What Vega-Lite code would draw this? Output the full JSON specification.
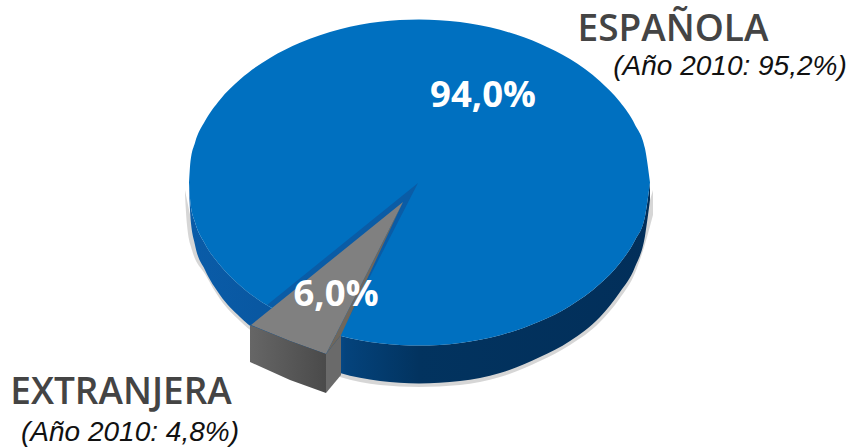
{
"$schema":"https://vega.github.io/schema/vega-lite/v6.json",
"width":850,"height":447,"padding":0,
"autosize":{"type":"fit","contains":"padding"},
"background":"white",
"config":{"view":{"stroke":null}},
"datasets":{
"shadow":[
{"x":185,"y":190,"y2":195},
{"x":187,"y":200,"y2":225},
{"x":192,"y":222,"y2":250},
{"x":205,"y":244,"y2":274},
{"x":220,"y":265,"y2":299},
{"x":240,"y":285,"y2":321},
{"x":270,"y":307,"y2":344},
{"x":300,"y":322,"y2":361},
{"x":340,"y":336,"y2":377},
{"x":380,"y":343,"y2":385},
{"x":419,"y":345,"y2":387},
{"x":460,"y":343,"y2":385},
{"x":500,"y":335,"y2":377},
{"x":540,"y":321,"y2":361},
{"x":570,"y":306,"y2":345},
{"x":600,"y":284,"y2":322},
{"x":620,"y":263,"y2":298},
{"x":635,"y":240,"y2":273},
{"x":645,"y":216,"y2":244},
{"x":653,"y":190,"y2":215}
],
"rim":[
{"x":189,"top":182.5,"rim":182.5,"low":190},
{"x":190.5,"top":161.1,"rim":203.9,"low":218},
{"x":195,"top":142.7,"rim":222.3,"low":245},
{"x":205,"top":121.1,"rim":243.9,"low":270},
{"x":220,"top":99.7,"rim":265.3,"low":295},
{"x":240,"top":79.5,"rim":285.5,"low":317},
{"x":270,"top":57.9,"rim":307.1,"low":340},
{"x":300,"top":42.8,"rim":322.2,"low":357},
{"x":340,"top":29.3,"rim":335.7,"low":373},
{"x":380,"top":21.8,"rim":343.2,"low":381},
{"x":419,"top":19.5,"rim":345.5,"low":383.5},
{"x":460,"top":22.1,"rim":342.9,"low":381},
{"x":500,"top":29.8,"rim":335.2,"low":373},
{"x":540,"top":43.7,"rim":321.3,"low":357},
{"x":570,"top":59.1,"rim":305.9,"low":341},
{"x":600,"top":81.2,"rim":283.8,"low":317},
{"x":620,"top":102.1,"rim":262.9,"low":292},
{"x":635,"top":124.7,"rim":240.3,"low":267},
{"x":645,"top":148.6,"rim":216.4,"low":236},
{"x":650,"top":182.5,"rim":182.5,"low":200}
],
"notch":[{"x":267,"y":305,"y2":305},{"x":340,"y":246,"y2":335},{"x":418,"y":183,"y2":183}],
"grayTop":[{"x":251,"y":325,"y2":325},{"x":290,"y":293.4,"y2":341},{"x":326,"y":264.3,"y2":354},{"x":403,"y":202,"y2":202}],
"grayInner":[{"x":326,"y":354,"y2":354},{"x":341,"y":324.4,"y2":335},{"x":403,"y":202,"y2":202}],
"grayFront":[{"x":250,"y":325,"y2":362},{"x":290,"y":341,"y2":380},{"x":326,"y":354,"y2":393}],
"graySide":[{"x":326,"y":354,"y2":393},{"x":341,"y":335,"y2":375}],
"heads":[{"t":"ESPAÑOLA","x":673,"y":41},{"t":"EXTRANJERA","x":121,"y":404}],
"subs":[{"t":"(Año 2010: 95,2%)","x":730,"y":75},{"t":"(Año 2010: 4,8%)","x":130,"y":441}],
"vals":[{"t":"94,0%","x":483,"y":107},{"t":"6,0%","x":336,"y":306}]
},
"encoding":{
"x":{"field":"x","type":"quantitative","scale":{"domain":[0,850],"nice":false,"zero":false},"axis":null}
},
"layer":[
{"data":{"name":"shadow"},"mark":{"type":"area","interpolate":"monotone","color":"#000000","opacity":0.16},
 "encoding":{"y":{"field":"y","type":"quantitative","scale":{"domain":[447,0],"nice":false,"zero":false},"axis":null},"y2":{"field":"y2"}}},
{"data":{"name":"rim"},"mark":{"type":"area","interpolate":"monotone","color":{"gradient":"linear","x1":0,"y1":0,"x2":1,"y2":0,"stops":[{"offset":0,"color":"#0a5ca8"},{"offset":0.3,"color":"#08549c"},{"offset":0.34,"color":"#04437c"},{"offset":0.5,"color":"#02335f"},{"offset":1,"color":"#022f5a"}]}},
 "encoding":{"y":{"field":"rim","type":"quantitative"},"y2":{"field":"low"}}},
{"data":{"name":"rim"},"mark":{"type":"area","interpolate":"monotone","color":"#0070c0"},
 "encoding":{"y":{"field":"top","type":"quantitative"},"y2":{"field":"rim"}}},
{"data":{"name":"notch"},"mark":{"type":"area","color":"#0a5ca6"},
 "encoding":{"y":{"field":"y","type":"quantitative"},"y2":{"field":"y2"}}},
{"data":{"name":"grayInner"},"mark":{"type":"area","color":"#6f675c"},
 "encoding":{"y":{"field":"y","type":"quantitative"},"y2":{"field":"y2"}}},
{"data":{"name":"grayTop"},"mark":{"type":"area","color":"#808080"},
 "encoding":{"y":{"field":"y","type":"quantitative"},"y2":{"field":"y2"}}},
{"data":{"name":"grayFront"},"mark":{"type":"area","color":{"gradient":"linear","x1":0,"y1":0,"x2":1,"y2":0,"stops":[{"offset":0,"color":"#666666"},{"offset":1,"color":"#4a4a4a"}]}},
 "encoding":{"y":{"field":"y","type":"quantitative"},"y2":{"field":"y2"}}},
{"data":{"name":"graySide"},"mark":{"type":"area","color":"#6a6a6a"},
 "encoding":{"y":{"field":"y","type":"quantitative"},"y2":{"field":"y2"}}},
{"data":{"name":"heads"},"mark":{"type":"text","font":"Open Sans","fontWeight":600,"fontSize":37,"color":"#444444","align":"center","baseline":"alphabetic"},
 "encoding":{"y":{"field":"y","type":"quantitative"},"text":{"field":"t"}}},
{"data":{"name":"subs"},"mark":{"type":"text","font":"Liberation Sans","fontStyle":"italic","fontSize":28,"color":"#111111","align":"center","baseline":"alphabetic"},
 "encoding":{"y":{"field":"y","type":"quantitative"},"text":{"field":"t"}}},
{"data":{"name":"vals"},"mark":{"type":"text","font":"Open Sans","fontWeight":700,"fontSize":36.5,"color":"#ffffff","align":"center","baseline":"alphabetic"},
 "encoding":{"y":{"field":"y","type":"quantitative"},"text":{"field":"t"}}}
]
}
